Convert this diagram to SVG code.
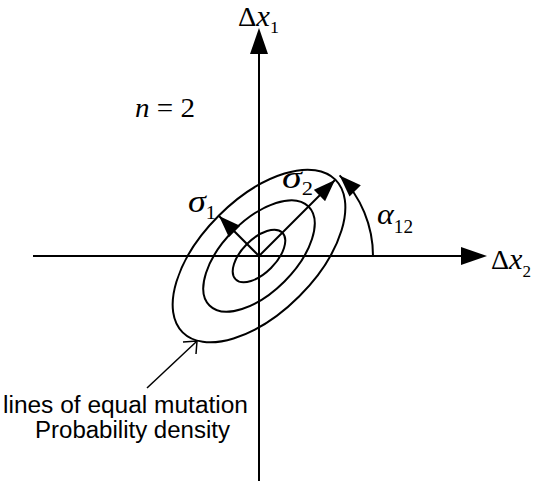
<svg xmlns="http://www.w3.org/2000/svg" width="534" height="485" viewBox="0 0 534 485">
<style>
.ln{fill:none;stroke:#000;stroke-width:2}
.math{font-family:"Liberation Serif","Times New Roman",serif;fill:#000}
.it{font-style:italic}
.up{font-style:normal}
.lbl{font-family:"Liberation Sans",Arial,sans-serif;fill:#000;font-size:23px}
</style>
<defs>
<marker id="ah" viewBox="0 0 22 16" refX="22" refY="8" markerWidth="22" markerHeight="16" markerUnits="userSpaceOnUse" orient="auto">
<path d="M0,0 L22,8 L0,16 z" fill="#000"/>
</marker>
</defs>
<rect width="534" height="485" fill="#fff"/>
<g id="axes">
<line class="ln" x1="259" y1="481" x2="259" y2="50"/>
<polygon points="259,28 250,54 268,54" fill="#000"/>
<line class="ln" x1="33" y1="256" x2="465" y2="256"/>
<polygon points="487,256 461,247 461,265" fill="#000"/>
</g>
<g id="ellipses">
<ellipse class="ln" cx="259" cy="256" rx="108" ry="57" transform="rotate(-45 259 256)"/>
<ellipse class="ln" cx="259" cy="256" rx="70" ry="36" transform="rotate(-45 259 256)"/>
<ellipse class="ln" cx="259" cy="256" rx="33" ry="17" transform="rotate(-45 259 256)"/>
</g>
<g id="connectors">
<line class="ln" x1="259" y1="256" x2="219" y2="216" marker-end="url(#ah)"/>
<line class="ln" x1="259" y1="256" x2="335" y2="180" marker-end="url(#ah)"/>
<path class="ln" d="M373,256 A114,114 0 0,0 339.6,175.4" marker-end="url(#ah)"/>
<line class="ln" x1="147" y1="388" x2="196" y2="342" style="stroke-width:1.5"/>
<polyline class="ln" points="183,342 197,341 196,354" style="stroke-width:1.5"/>
</g>
<g id="labels">
<text class="math" x="238" y="26" font-size="27" textLength="41" lengthAdjust="spacingAndGlyphs">Δ<tspan class="it" font-size="29">x</tspan><tspan font-size="17" dy="7">1</tspan></text>
<text class="math" x="491" y="269" font-size="28" textLength="40" lengthAdjust="spacingAndGlyphs">Δ<tspan class="it" font-size="30">x</tspan><tspan font-size="17" dy="8">2</tspan></text>
<text class="math" x="135" y="117" font-size="28" textLength="60" lengthAdjust="spacingAndGlyphs"><tspan class="it">n</tspan> = 2</text>
<text class="math it" x="188" y="212" font-size="32" textLength="28" lengthAdjust="spacingAndGlyphs">σ<tspan class="up" font-size="18" dy="7">1</tspan></text>
<text class="math it" x="282" y="188" font-size="32" textLength="31" lengthAdjust="spacingAndGlyphs">σ<tspan class="up" font-size="18" dy="7">2</tspan></text>
<text class="math it" x="377" y="224" font-size="30" textLength="36" lengthAdjust="spacingAndGlyphs">α<tspan class="up" font-size="18" dy="9">12</tspan></text>
<text class="lbl" x="3" y="413" textLength="245" lengthAdjust="spacingAndGlyphs">lines of equal mutation</text>
<text class="lbl" x="35" y="438" textLength="195" lengthAdjust="spacingAndGlyphs">Probability density</text>
</g>
</svg>
